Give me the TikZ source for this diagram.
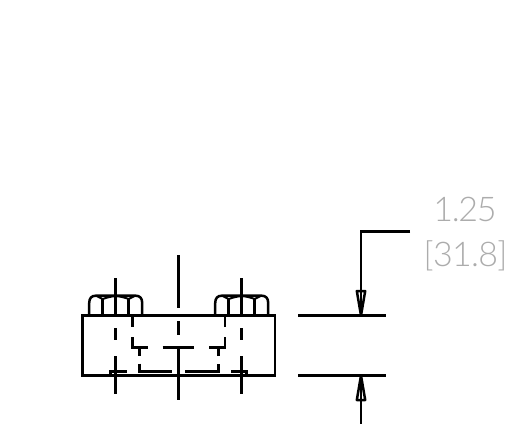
\documentclass[tikz,border=0pt]{standalone}
\usepackage{fontspec}
\usetikzlibrary{calc}
\newfontfamily\dimfont{Lato Light}
\tikzset{
  objline/.style={black, line width=2.5pt},
  dimline/.style={black, line width=2.5pt},
  dimtext/.style={gray!65, font=\dimfont\fontsize{34}{34}\selectfont, inner sep=0pt, anchor=center}
}
\begin{document}
\begin{tikzpicture}[x=1pt,y=-1pt]
\useasboundingbox (0,0) rectangle (524,424);
\coordinate (PL) at (82.7,315.7);
\coordinate (PR) at (275.2,375.5);
\coordinate (C) at (178.3,0);
% plate
\draw[objline] (PL) rectangle (PR);
% centre line
\draw[objline] (C |- 0,255)--(C |- 0,308);
\draw[objline] (C |- 0,321)--(C |- 0,335);
\draw[objline] (C |- 0,348)--(C |- 0,400);
% bolts
\foreach \bx in {115.7,241.7} {
  \draw[objline] (\bx,278)--(\bx,315.7);
  \draw[objline] (\bx,328)--(\bx,340);
  \draw[objline] (\bx,356)--(\bx,394);
  \draw[objline] (\bx-26.5,315.7)--(\bx-26.5,303) .. controls (\bx-26.5,298) and (\bx-24,295.7) .. (\bx-20,295.7)
    --(\bx+20,295.7) .. controls (\bx+24,295.7) and (\bx+26.5,298) .. (\bx+26.5,303)--(\bx+26.5,315.7);
  \foreach \sx in {-1,1} {
    \draw[objline] (\bx+\sx*13,315.7)--(\bx+\sx*13,299);
    \draw[objline, line width=2pt] (\bx+\sx*19,296) .. controls (\bx+\sx*16,298) .. (\bx+\sx*13,299)
      .. controls (\bx+\sx*9,297.5) and (\bx+\sx*5,296.5) .. (\bx,296);
  }
}
% hidden step
\draw[objline] (132.3,315.7)--(132.3,327);
\draw[objline] (132.3,337)--(132.3,347.3)--(148.3,347.3);
\draw[objline] (162.7,347.3)--(194,347.3);
\draw[objline] (209.3,347.3)--(225,347.3)--(225,337);
\draw[objline] (225,327)--(225,315.7);
\draw[objline] (139.3,347.3)--(139.3,356);
\draw[objline] (139.3,363.5)--(139.3,371.7)--(171.7,371.7);
\draw[objline] (185,371.7)--(218.3,371.7)--(218.3,363.5);
\draw[objline] (218.3,356)--(218.3,347.3);
% counterbores
\draw[objline] (110.7,375.5)--(110.7,371.7)--(126.7,371.7);
\draw[objline] (246.7,375.5)--(246.7,371.7)--(230.7,371.7);
% dimension
\coordinate (E1) at (298.3,315.5);
\coordinate (E2) at (386,315.5);
\coordinate (F1) at (298.3,375.5);
\coordinate (F2) at (386,375.5);
\coordinate (T1) at (361,315.5);
\coordinate (T2) at (361,375.5);
\draw[dimline] (E1)--(E2);
\draw[dimline] (F1)--(F2);
\draw[dimline] (410,231.7)--(361,231.7)--(T1);
\draw[dimline] (T2)--(361,423.5);
\draw[dimline, line join=round] (T1)--(356.8,291)--(365.2,291)--cycle;
\draw[dimline, line join=round] (T2)--(356.8,400)--(365.2,400)--cycle;
\node[dimtext] (lblin) at (465,209.5) {\addfontfeatures{LetterSpace=-4}1.25};
\node[dimtext] (lblmm) at (465.5,255.5) {\addfontfeatures{LetterSpace=-2}[31.8]};
\end{tikzpicture}
\end{document}
